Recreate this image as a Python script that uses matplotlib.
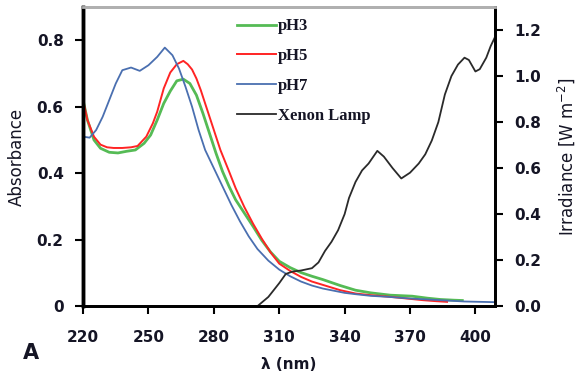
import numpy as np
import matplotlib
matplotlib.use("Agg")
import matplotlib.pyplot as plt
from matplotlib.ticker import FixedLocator, FixedFormatter

# ---- Absorbance spectra (nm, A) ---------------------------------------------
wl_ph3 = [220, 222, 225, 228, 232, 236, 240, 244, 248, 251, 254, 257, 260, 263,
          266, 269, 272, 275, 278, 281, 284, 287, 290, 294, 298, 302, 306, 310,
          315, 320, 325, 330, 338, 345, 352, 361, 371, 378, 384, 390, 394]
abs_ph3 = [0.62, 0.56, 0.50, 0.475, 0.463, 0.461, 0.466, 0.470, 0.490, 0.515,
           0.560, 0.610, 0.647, 0.678, 0.683, 0.670, 0.635, 0.580, 0.520, 0.460,
           0.405, 0.360, 0.320, 0.280, 0.240, 0.198, 0.163, 0.135, 0.116, 0.101,
           0.090, 0.080, 0.062, 0.048, 0.040, 0.033, 0.030, 0.024, 0.020, 0.018,
           0.017]

wl_ph5 = [220, 222, 225, 228, 231, 234, 238, 242, 245, 249, 252, 254, 257, 260,
          263, 266, 268, 270, 272, 274, 277, 280, 283, 287, 290, 294, 298, 302,
          306, 310, 315, 320, 325, 330, 338, 345, 352, 361, 370, 376, 382, 387]
abs_ph5 = [0.62, 0.56, 0.51, 0.486, 0.478, 0.476, 0.476, 0.478, 0.482, 0.510,
           0.550, 0.585, 0.655, 0.703, 0.728, 0.738, 0.728, 0.712, 0.685, 0.650,
           0.590, 0.530, 0.470, 0.405, 0.355, 0.298, 0.248, 0.203, 0.162, 0.128,
           0.106, 0.088, 0.074, 0.064, 0.048, 0.038, 0.033, 0.028, 0.022, 0.018,
           0.015, 0.013]

wl_ph7 = [220, 223, 226, 229, 232, 235, 238, 242, 246, 250, 254, 257.5, 261,
          264, 267, 270, 273, 276, 280, 284, 288, 292, 296, 300, 305, 310, 315,
          320, 325, 330, 340, 345, 352, 360, 370, 384, 395, 409]
abs_ph7 = [0.51, 0.507, 0.53, 0.57, 0.62, 0.67, 0.71, 0.718, 0.708, 0.725,
           0.750, 0.778, 0.755, 0.715, 0.660, 0.600, 0.530, 0.470, 0.415, 0.360,
           0.305, 0.255, 0.210, 0.172, 0.137, 0.110, 0.090, 0.074, 0.062, 0.053,
           0.040, 0.036, 0.031, 0.028, 0.023, 0.018, 0.014, 0.012]

# ---- Xenon lamp irradiance (nm, W m-2) --------------------------------------
wl_xe = [300, 305, 310, 313, 316, 320, 325, 328, 331, 334, 337, 340, 342, 345,
         348, 351, 355, 358, 362, 366, 370, 374, 377, 380, 383, 386, 389, 392,
         395, 397, 400, 402, 405, 407, 409]
irr_xe = [0.0, 0.04, 0.10, 0.14, 0.15, 0.155, 0.165, 0.19, 0.24, 0.28, 0.33,
          0.40, 0.47, 0.54, 0.59, 0.62, 0.675, 0.65, 0.60, 0.555, 0.58, 0.62,
          0.66, 0.72, 0.80, 0.92, 1.00, 1.05, 1.08, 1.07, 1.02, 1.03, 1.08,
          1.13, 1.17]

x_ticks = [220, 250, 280, 310, 340, 370, 400]
abs_ticks = [0, 0.2, 0.4, 0.6, 0.8]
abs_tick_labels = ["0", "0.2", "0.4", "0.6", "0.8"]
irr_ticks = [0.0, 0.2, 0.4, 0.6, 0.8, 1.0, 1.2]

TXT = "#151525"

fig = plt.figure(figsize=(5.81, 3.92), dpi=100)
ax = fig.add_axes([0.143, 0.219, 0.709, 0.763])
ax2 = ax.twinx()

l3, = ax.plot(wl_ph3, abs_ph3, color="#55bb55", lw=2.0, label="pH3")
l5, = ax.plot(wl_ph5, abs_ph5, color="#ff2424", lw=1.4, label="pH5")
l7, = ax.plot(wl_ph7, abs_ph7, color="#4a6fb0", lw=1.3, label="pH7")
lx, = ax2.plot(wl_xe, irr_xe, color="#2a2a2a", lw=1.3, label="Xenon Lamp")

ax.set_xlim(220, 409)
ax.set_ylim(0, 0.9)
ax2.set_ylim(0, 1.3)

ax.xaxis.set_major_locator(FixedLocator(x_ticks))
ax.yaxis.set_major_locator(FixedLocator(abs_ticks))
ax.yaxis.set_major_formatter(FixedFormatter(abs_tick_labels))
ax2.yaxis.set_major_locator(FixedLocator(irr_ticks))
ax2.set_yticklabels([f"{v:.1f}" for v in irr_ticks])

for lab in ax.get_xticklabels() + ax.get_yticklabels() + ax2.get_yticklabels():
    lab.set_fontsize(11)
    lab.set_fontweight("bold")
    lab.set_color(TXT)

ax.tick_params(axis="x", direction="out", length=6, width=1.5, pad=11)
ax.tick_params(axis="y", direction="out", length=6, width=1.5, pad=8)
ax2.tick_params(axis="y", direction="out", length=6, width=1.5, pad=8)

for a in (ax, ax2):
    a.spines["top"].set_color("#b0b0b0")
    a.spines["top"].set_linewidth(2)
    a.spines["bottom"].set_linewidth(2)
    a.spines["left"].set_linewidth(2.5)
    a.spines["right"].set_linewidth(2)

ax.set_ylabel("Absorbance", fontsize=12, color=TXT, labelpad=8)
ax2.set_ylabel("Irradiance [W m$^{-2}$]", fontsize=12, color=TXT, labelpad=10)
ax.set_xlabel("λ (nm)", fontsize=11, fontweight="bold", color=TXT, labelpad=9)
fig.text(0.04, 0.085, "A", fontsize=15, fontweight="bold", color=TXT)

leg = ax.legend(handles=[l3, l5, l7, lx], loc="upper left",
                bbox_to_anchor=(0.337, 1.012), frameon=False,
                prop={"family": "Liberation Serif", "weight": "bold", "size": 12},
                handlelength=2.35, handletextpad=0.12, labelspacing=0.83)
for t in leg.get_texts():
    t.set_color(TXT)

fig.savefig("out.png", dpi=100)
